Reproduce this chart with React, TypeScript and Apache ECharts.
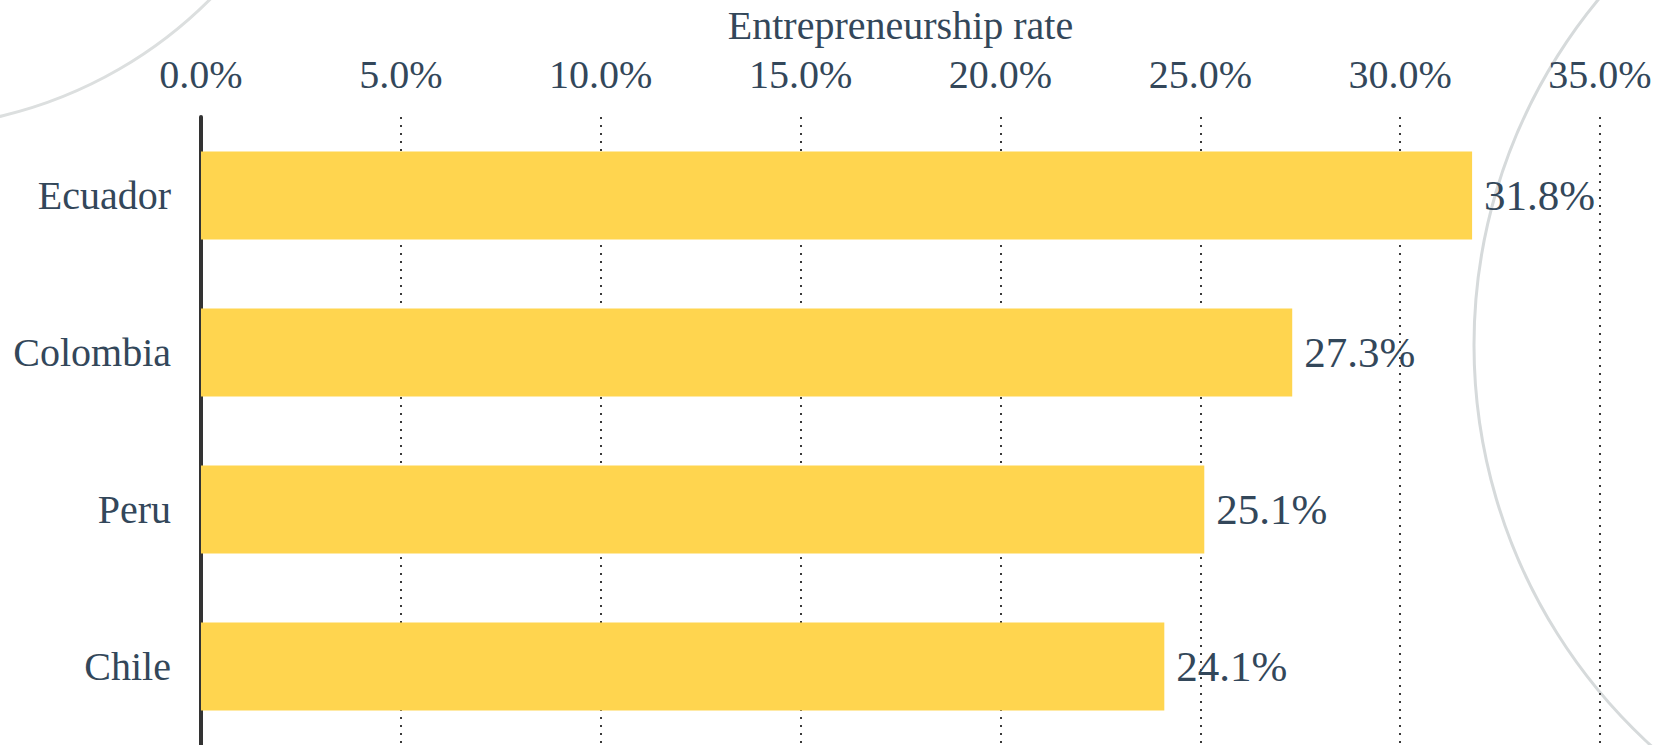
import React, { useEffect, useRef } from "react";
import * as echarts from "echarts";

const categories = ["Ecuador", "Colombia", "Peru", "Chile"];
const rates = [31.8, 27.3, 25.1, 24.1];
const axisTitle = "Entrepreneurship rate";

const TEXT = "#33475a";
const FONT = "'Liberation Serif', 'Times New Roman', serif";

export default function App() {
  const ref = useRef<HTMLDivElement>(null);
  useEffect(() => {
    if (!ref.current) return;
    const chart = echarts.init(ref.current, null, { renderer: "svg" });
    chart.setOption({
      animation: false,
      backgroundColor: "#ffffff",
      graphic: [
        {
          type: "circle",
          z: -10,
          silent: true,
          shape: { cx: -100, cy: -310, r: 438 },
          style: { fill: "none", stroke: "#dcdfdf", lineWidth: 3 },
        },
        {
          type: "circle",
          z: -10,
          silent: true,
          shape: { cx: 2016, cy: 345, r: 542 },
          style: { fill: "none", stroke: "#d6dadb", lineWidth: 3 },
        },
      ],
      grid: { left: 201, top: 117, width: 1399, height: 630, containLabel: false },
      xAxis: {
        type: "value",
        position: "top",
        min: 0,
        max: 35,
        interval: 5,
        name: axisTitle,
        nameLocation: "middle",
        nameGap: 72,
        nameTextStyle: { fontFamily: FONT, fontSize: 40, color: TEXT },
        axisLine: { show: false },
        axisTick: { show: false },
        axisLabel: {
          margin: 23,
          fontFamily: FONT,
          fontSize: 40,
          color: TEXT,
          formatter: (v: number) => v.toFixed(1) + "%",
        },
        splitLine: {
          show: true,
          lineStyle: { color: "#3a3a3a", width: 2, type: [2, 6] },
        },
      },
      yAxis: {
        type: "category",
        data: categories,
        inverse: true,
        axisTick: { show: false },
        axisLine: { show: true, lineStyle: { color: "#333333", width: 4 } },
        axisLabel: { margin: 30, fontFamily: FONT, fontSize: 40, color: TEXT },
        splitLine: { show: false },
      },
      series: [
        {
          type: "bar",
          data: rates,
          barWidth: 88,
          itemStyle: { color: "#FFD54F" },
          label: {
            show: true,
            position: "right",
            distance: 12,
            fontFamily: FONT,
            fontSize: 43,
            color: TEXT,
            formatter: (p: any) => Number(p.value).toFixed(1) + "%",
          },
        },
      ],
    });
    return () => chart.dispose();
  }, []);
  return <div ref={ref} style={{ width: 1668, height: 745, position: "absolute", left: 0, top: 0 }} />;
}
